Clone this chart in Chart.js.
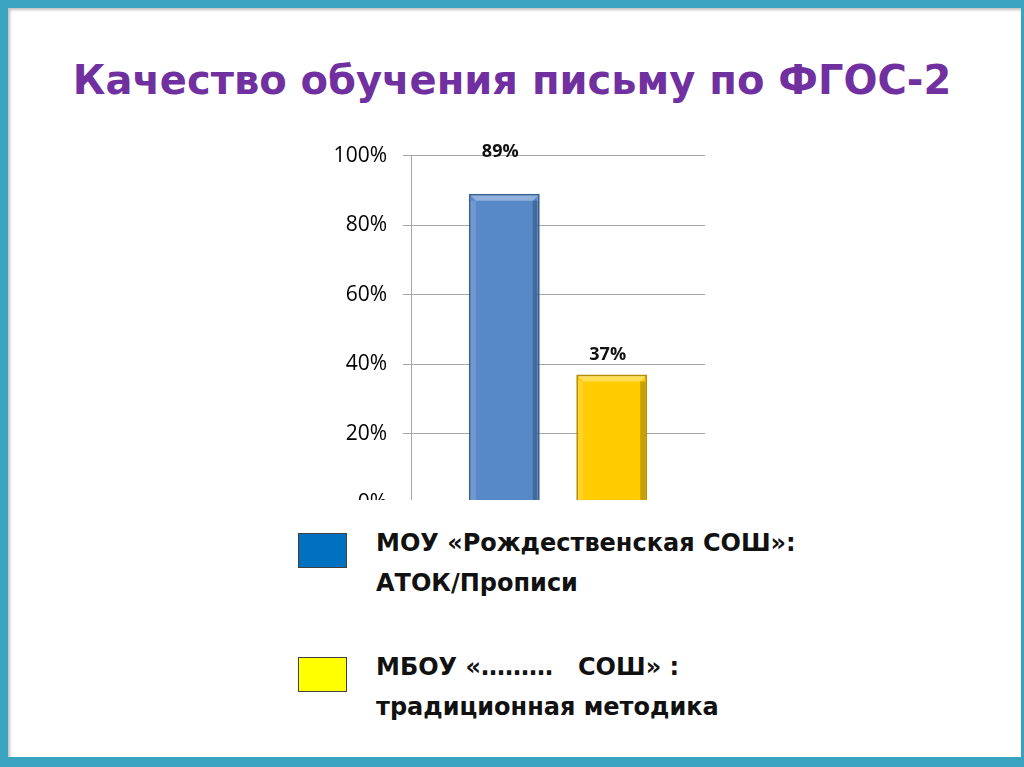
<!DOCTYPE html>
<html lang="ru">
<head>
<meta charset="utf-8">
<title>Качество обучения письму по ФГОС-2</title>
<script src="https://cdn.jsdelivr.net/npm/chart.js@4.4.1/dist/chart.umd.min.js"></script>
<style>
  html, body { margin: 0; padding: 0; background: #ffffff; }
  #slide { position: relative; width: 1024px; height: 767px; overflow: hidden; background: #ffffff; }
  #frame {
    position: absolute; left: 0; top: 0; width: 1024px; height: 767px; box-sizing: border-box;
    border-style: solid; border-color: #3aa3bf;
    border-width: 8px 3px 10px 8px;
    box-shadow: inset 2px 2px 3px rgba(0,0,0,0.25);
  }
  #title {
    position: absolute; left: 0; top: 60px; width: 1024px; text-align: center;
    font-family: "DejaVu Sans", sans-serif; font-weight: bold; font-size: 40px; line-height: 40px;
    color: #7030a0;
  }
  #chartBox { position: absolute; left: 300px; top: 130px; width: 420px; height: 370px; overflow: hidden; }
  #chartBox canvas { position: absolute; left: 0; top: -3px; }
  .swatch { position: absolute; left: 298px; width: 47px; height: 33px; border: 1px solid #404040; }
  .legendText {
    position: absolute; left: 376px; white-space: pre;
    font-family: "DejaVu Sans", sans-serif; font-weight: bold; font-size: 24px; line-height: 40px;
    color: #111111;
  }
</style>
</head>
<body>
<div id="slide">
  <div id="frame"></div>
  <div id="title">Качество обучения письму по ФГОС-2</div>
  <div id="chartBox"><canvas id="qualityChart" width="420" height="420"></canvas></div>
  <div class="swatch" style="top:533px; background:#0070c0;"></div>
  <div class="legendText" id="legend0" style="top:523px;"></div>
  <div class="swatch" style="top:657px; background:#ffff00;"></div>
  <div class="legendText" id="legend1" style="top:647px;"></div>
</div>
<script>
// Chart data
const categories = [""];
const schoolNames = [
  "МОУ «Рождественская СОШ»:\nАТОК/Прописи",
  "МБОУ «………   СОШ» :\nтрадиционная методика"
];
const qualityValues = [89, 37];
const tickValues = [0, 20, 40, 60, 80, 100];

// legend text is a separate block on the slide
document.getElementById("legend0").textContent = schoolNames[0];
document.getElementById("legend1").textContent = schoolNames[1];

const barFill = ["#5788c8", "#ffcc00"];
const barEdge = ["#3b6297", "#b68f00"];
const labelLift = [42, 20];

// draws bevel strips on each bar and the value labels above them
const bevelAndLabels = {
  id: "bevelAndLabels",
  afterDatasetsDraw(chart) {
    const ctx = chart.ctx;
    chart.data.datasets.forEach((ds, i) => {
      const meta = chart.getDatasetMeta(i);
      meta.data.forEach((bar, j) => {
        const left = bar.x - bar.width / 2;
        const right = bar.x + bar.width / 2;
        const top = bar.y;
        const bottom = bar.base;
        ctx.save();
        // top highlight
        ctx.fillStyle = "rgba(255,255,255,0.35)";
        ctx.beginPath();
        ctx.moveTo(left + 2, top + 2);
        ctx.lineTo(right - 2, top + 2);
        ctx.lineTo(right - 7, top + 7);
        ctx.lineTo(left + 7, top + 7);
        ctx.closePath();
        ctx.fill();
        // left light edge
        ctx.fillStyle = "rgba(255,255,255,0.15)";
        ctx.fillRect(left + 2, top + 7, 5, bottom - top - 7);
        // right dark edge
        ctx.fillStyle = "rgba(0,0,0,0.22)";
        ctx.fillRect(right - 7, top + 7, 5, bottom - top - 7);
        ctx.restore();

        ctx.save();
        ctx.font = "bold 18px 'Open Sans', sans-serif";
        ctx.fillStyle = "#111111";
        ctx.textAlign = "center";
        ctx.textBaseline = "middle";
        ctx.fillText(ds.data[j] + "%", bar.x - 4, top - labelLift[i]);
        ctx.restore();
      });
    });
  }
};

const ctx = document.getElementById("qualityChart").getContext("2d");
new Chart(ctx, {
  type: "bar",
  data: {
    labels: categories,
    datasets: qualityValues.map((v, i) => ({
      label: schoolNames[i],
      data: [v],
      backgroundColor: barFill[i],
      borderColor: barEdge[i],
      borderWidth: 2,
      borderSkipped: false,
      categoryPercentage: 0.731,
      barPercentage: 0.66
    }))
  },
  options: {
    responsive: false,
    animation: false,
    layout: { padding: { left: 0, top: 22, right: 15, bottom: 44 } },
    plugins: {
      legend: { display: false },
      tooltip: { enabled: false }
    },
    scales: {
      x: {
        display: false
      },
      y: {
        min: 0,
        max: 100,
        afterFit(scale) { scale.width = 111; },
        afterBuildTicks(scale) { scale.ticks = tickValues.map(v => ({ value: v })); },
        grid: { color: "#a6a6a6", lineWidth: 1, tickLength: 8 },
        border: { color: "#a6a6a6" },
        ticks: {
          padding: 16,
          color: "#000000",
          font: { family: "Open Sans", size: 21 },
          callback: v => v + "%"
        }
      }
    }
  },
  plugins: [bevelAndLabels]
});
</script>
</body>
</html>
